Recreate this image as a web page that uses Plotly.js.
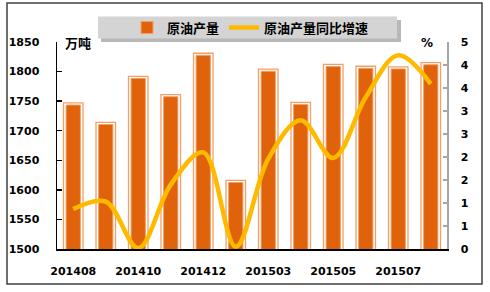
<!DOCTYPE html>
<html>
<head>
<meta charset="utf-8">
<script src="https://cdn.plot.ly/plotly-3.0.1.min.js"></script>
<style>html,body{margin:0;padding:0;background:#fff;}#chart{width:490px;height:292px;}</style>
</head>
<body>
<div id="chart"></div>
<script>
// ---- data ----
var months = ['201408','201409','201410','201411','201412','201502','201503','201504','201505','201506','201507','201508'];
var output = [1747, 1714, 1792, 1761, 1831, 1616, 1804, 1748, 1812, 1809, 1808, 1815];   // 万吨
var growth = [0.87, 1.03, 0.02, 1.40, 2.10, 0.05, 1.96, 2.80, 1.98, 3.30, 4.21, 3.59];   // %
var xTickVals = ['201408','201410','201412','201503','201505','201507'];
var y2TickVals = [0, 0.5, 1, 1.5, 2, 2.5, 3, 3.5, 4, 4.5];
var y2TickText = ['0','1','1','2','2','3','3','4','4','5'];
var yTickVals = [1500, 1550, 1600, 1650, 1700, 1750, 1800, 1850];

// ---- geometry helpers (layout only) ----
var W = 490, H = 292, L = 57, R = 43, T = 42, B = 43;
var PW = W - L - R, PH = H - T - B;
function px2x(px){ return (px - L) / PW; }
function px2y(py){ return (H - B - py) / PH; }

var numFont = {family: 'DejaVu Sans', size: 11, color: '#000', weight: 'bold'};
var cjkFont = {family: 'Noto Sans CJK SC', size: 13, color: '#000', weight: 'bold'};

var inset = 3.5; // inner fill sits a little below the outlined frame
var outputInner = output.map(function(v){ return v - inset; });

var traces = [
  {type: 'bar', x: months, y: output, width: 0.6, yaxis: 'y',
   marker: {color: '#FFFFFF', line: {color: '#F2A066', width: 1.3}},
   showlegend: false, hoverinfo: 'skip'},
  {type: 'bar', x: months, y: outputInner, width: 0.44, yaxis: 'y', name: '原油产量',
   marker: {color: '#E0620A', line: {color: '#F2A066', width: 1}}},
  {type: 'scatter', mode: 'lines', x: months, y: growth, yaxis: 'y2', name: '原油产量同比增速',
   line: {color: '#FFBA00', width: 4.5, shape: 'spline', smoothing: 1}}
];

var layout = {
  width: W, height: H,
  margin: {l: L, r: R, t: T, b: B, pad: 0},
  paper_bgcolor: '#FFFFFF', plot_bgcolor: '#FFFFFF',
  barmode: 'overlay',
  showlegend: true,
  legend: {orientation: 'h', x: px2x(127), y: px2y(27.5), xanchor: 'left', yanchor: 'middle',
           bgcolor: 'rgba(0,0,0,0)', borderwidth: 0, font: cjkFont, itemwidth: 30,
           traceorder: 'normal'},
  xaxis: {type: 'category', range: [-0.5, 11.5], showgrid: false, zeroline: false,
          showline: true, linecolor: '#000', linewidth: 1.5, ticks: '',
          tickmode: 'array', tickvals: xTickVals, ticktext: xTickVals,
          tickfont: numFont, ticklabelstandoff: 11, fixedrange: true},
  yaxis: {range: [1500, 1850], showgrid: false, zeroline: false,
          showline: true, linecolor: '#000', linewidth: 1.5,
          ticks: 'inside', ticklen: 5, tickwidth: 1.5, tickcolor: '#000',
          tickmode: 'array', tickvals: yTickVals,
          tickfont: numFont, ticklabelstandoff: 14},
  yaxis2: {overlaying: 'y', side: 'right', range: [0, 4.5], showgrid: false, zeroline: false,
           showline: true, linecolor: '#A6A6A6', linewidth: 1.5,
           ticks: 'inside', ticklen: 4, tickwidth: 1.2, tickcolor: '#A6A6A6',
           tickmode: 'array', tickvals: y2TickVals, ticktext: y2TickText,
           tickfont: numFont, ticklabelstandoff: 10},
  annotations: [
    {xref: 'paper', yref: 'paper', x: px2x(63), y: px2y(42), xanchor: 'left', yanchor: 'middle',
     text: '万吨', showarrow: false, font: cjkFont},
    {xref: 'paper', yref: 'paper', x: px2x(427), y: px2y(43), xanchor: 'center', yanchor: 'middle',
     text: '%', showarrow: false, font: {family: 'DejaVu Sans', size: 12, color: '#000', weight: 'bold'}}
  ],
  shapes: [
    {type: 'rect', xref: 'paper', yref: 'paper', x0: px2x(7), x1: px2x(482), y0: px2y(284), y1: px2y(3),
     line: {color: '#404040', width: 1.5}, fillcolor: 'rgba(0,0,0,0)', layer: 'below'},
    // legend box shadow and box
    {type: 'rect', xref: 'paper', yref: 'paper', x0: px2x(101), x1: px2x(401), y0: px2y(42), y1: px2y(20),
     line: {width: 0}, fillcolor: '#9A9A9A', opacity: 0.7, layer: 'above'},
    {type: 'rect', xref: 'paper', yref: 'paper', x0: px2x(98), x1: px2x(397), y0: px2y(38.5), y1: px2y(16.5),
     line: {width: 0}, fillcolor: '#D4D4D4', layer: 'above'}
  ]
};

Plotly.newPlot('chart', traces, layout, {staticPlot: true, displayModeBar: false});
</script>
</body>
</html>
